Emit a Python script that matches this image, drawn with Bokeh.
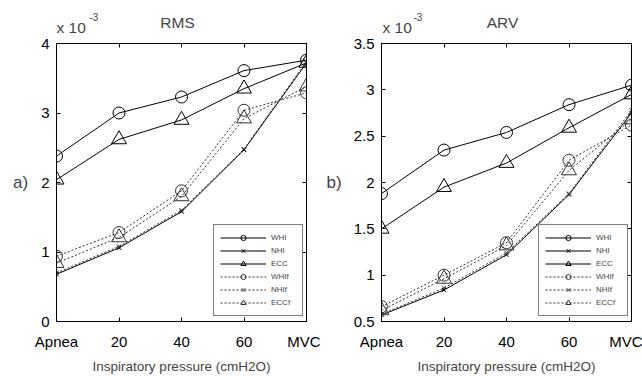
from bokeh.plotting import figure
from bokeh.layouts import row, column
from bokeh.models import FixedTicker, LinearAxis, Range1d, Label, Legend, LegendItem
from bokeh.embed import file_html
from bokeh.resources import INLINE

categories = ["Apnea", "20", "40", "60", "MVC"]
series_names = ["WHI", "NHI", "ECC", "WHIf", "NHIf", "ECCf"]

# RMS values (x 10^-3)
rms_WHI = [2.38, 3.00, 3.23, 3.61, 3.76]
rms_NHI = [0.68, 1.06, 1.58, 2.47, 3.72]
rms_ECC = [2.04, 2.62, 2.90, 3.35, 3.72]
rms_WHIf = [0.94, 1.28, 1.88, 3.04, 3.29]
rms_NHIf = [0.70, 1.08, 1.60, 2.48, 3.74]
rms_ECCf = [0.84, 1.21, 1.80, 2.92, 3.38]

# ARV values (x 10^-3)
arv_WHI = [1.88, 2.35, 2.54, 2.84, 3.05]
arv_NHI = [0.57, 0.84, 1.22, 1.87, 2.75]
arv_ECC = [1.50, 1.95, 2.21, 2.59, 2.95]
arv_WHIf = [0.66, 1.00, 1.35, 2.24, 2.62]
arv_NHIf = [0.58, 0.86, 1.24, 1.88, 2.78]
arv_ECCf = [0.62, 0.96, 1.32, 2.13, 2.68]

rms_ticks = [0, 1, 2, 3, 4]
rms_tick_labels = ["0", "1", "2", "3", "4"]
arv_ticks = [0.5, 1, 1.5, 2, 2.5, 3, 3.5]
arv_tick_labels = ["0.5", "1", "1.5", "2", "2.5", "3", "3.5"]

FONT = "Liberation Sans"
x_pos = list(range(len(categories)))

styles = {
    "WHI": dict(marker="circle", size=12, dash="solid", color="black"),
    "NHI": dict(marker="x", size=6, dash="solid", color="black"),
    "ECC": dict(marker="triangle", size=15, dash="solid", color="black"),
    "WHIf": dict(marker="circle", size=12, dash="2 2", color="#333333"),
    "NHIf": dict(marker="x", size=6, dash="2 2", color="#333333"),
    "ECCf": dict(marker="triangle", size=15, dash="2 2", color="#333333"),
}


def make_panel(letter, series, ticks, tick_labels, width, bl, br, letter_standoff):
    p = figure(width=width, height=341,
               x_range=Range1d(x_pos[0], x_pos[-1]),
               y_range=Range1d(ticks[0], ticks[-1]),
               output_backend="svg", toolbar_location=None,
               min_border_left=bl, min_border_right=br,
               min_border_top=8, min_border_bottom=53)
    p.xgrid.visible = False
    p.ygrid.visible = False
    p.outline_line_color = "black"
    p.outline_line_width = 1
    p.background_fill_color = "white"
    p.border_fill_color = "white"

    p.xaxis.ticker = FixedTicker(ticks=x_pos)
    p.xaxis.major_label_overrides = {i: c for i, c in zip(x_pos, categories)}
    p.yaxis.ticker = FixedTicker(ticks=ticks)
    p.yaxis.major_label_overrides = {t: s for t, s in zip(ticks, tick_labels)}
    for ax in (p.xaxis[0], p.yaxis[0]):
        ax.major_tick_in = 4
        ax.major_tick_out = 0
        ax.minor_tick_line_color = None
        ax.axis_line_color = "black"
        ax.major_label_text_font = FONT
        ax.major_label_text_font_size = "15px"
        ax.major_label_text_color = "black"
    p.xaxis.major_label_standoff = 11
    p.yaxis.major_label_standoff = 7
    p.xaxis.axis_label = "Inspiratory pressure (cmH2O)"
    p.xaxis.axis_label_text_font = FONT
    p.xaxis.axis_label_text_font_size = "13.5px"
    p.xaxis.axis_label_text_font_style = "normal"
    p.xaxis.axis_label_standoff = 6

    p.yaxis.axis_label = letter
    p.yaxis.axis_label_orientation = "horizontal"
    p.yaxis.axis_label_text_font = FONT
    p.yaxis.axis_label_text_font_size = "17px"
    p.yaxis.axis_label_text_font_style = "normal"
    p.yaxis.axis_label_standoff = letter_standoff

    # mirror axes (ticks only, inside) on top and right, labels blanked
    top = LinearAxis(ticker=FixedTicker(ticks=x_pos), major_tick_in=4, major_tick_out=0,
                     minor_tick_line_color=None, major_label_standoff=0,
                     major_label_text_font_size="1px",
                     major_label_overrides={i: "" for i in x_pos})
    right = LinearAxis(ticker=FixedTicker(ticks=ticks), major_tick_in=4, major_tick_out=0,
                       minor_tick_line_color=None, major_label_standoff=0,
                       major_label_text_font_size="1px",
                       major_label_overrides={t: "" for t in ticks})
    p.add_layout(top, "above")
    p.add_layout(right, "right")

    items = []
    for name in series_names:
        st = styles[name]
        ys = series[name]
        ln = p.line(x_pos, ys, line_color=st["color"], line_width=1, line_dash=st["dash"])
        sc = p.scatter(x_pos, ys, marker=st["marker"], size=st["size"],
                       line_color=st["color"], fill_alpha=0, line_width=1)
        items.append(LegendItem(label=name, renderers=[ln, sc]))
    legend = Legend(items=items, location=(157, 5), border_line_color="black",
                    border_line_width=1, background_fill_color="white", background_fill_alpha=1,
                    padding=6, spacing=0, glyph_width=46, glyph_height=13, label_height=13,
                    label_standoff=5, label_width=25, label_text_font=FONT,
                    label_text_font_size="8px", label_text_color="#444444", margin=0)
    p.add_layout(legend)
    return p


rms = dict(WHI=rms_WHI, NHI=rms_NHI, ECC=rms_ECC, WHIf=rms_WHIf, NHIf=rms_NHIf, ECCf=rms_ECCf)
arv = dict(WHI=arv_WHI, NHI=arv_NHI, ECC=arv_ECC, WHIf=arv_WHIf, NHIf=arv_NHIf, ECCf=arv_ECCf)

p1 = make_panel("a)", rms, rms_ticks, rms_tick_labels, 320, 56, 14, 10)
p2 = make_panel("b)", arv, arv_ticks, arv_tick_labels, 322, 61, 11, 9)

# header strip holding the panel titles and exponent notes (pixel coordinates, y from top)
head = figure(width=642, height=35, x_range=Range1d(0, 642), y_range=Range1d(35, 0),
              output_backend="svg", toolbar_location=None,
              x_axis_location=None, y_axis_location=None,
              min_border=0, outline_line_color=None)
head.xgrid.visible = False
head.ygrid.visible = False
head.border_fill_color = "white"
head.background_fill_color = "white"

titles = [("RMS", 177, 56, 89), ("ARV", 502, 382, 413)]
for t, tx, ex, sx in titles:
    head.add_layout(Label(x=tx, y=22, text=t, text_font=FONT, text_font_size="15.5px",
                          text_align="center", text_baseline="middle"))
    head.add_layout(Label(x=ex, y=27, text="x 10", text_font=FONT, text_font_size="15.5px",
                          text_align="left", text_baseline="middle"))
    head.add_layout(Label(x=sx, y=16, text="-3", text_font=FONT, text_font_size="10px",
                          text_align="left", text_baseline="middle"))

layout = column(head, row(p1, p2))
open("out.html", "w").write(file_html(layout, INLINE))
